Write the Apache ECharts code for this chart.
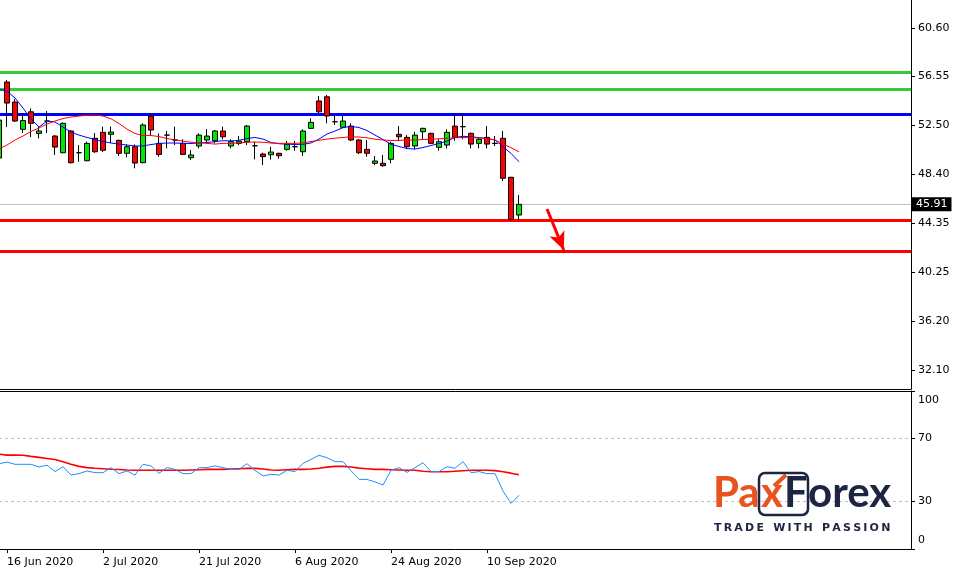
<!DOCTYPE html>
<html><head><meta charset="utf-8">
<script src="https://cdn.jsdelivr.net/npm/echarts@6/dist/echarts.min.js"></script>
<style>html,body{margin:0;padding:0;background:#fff}#c{width:956px;height:569px}</style>
</head><body><div id="c"></div>
<script>
// ---- data ----
const dates = ['15 Jun 2020','16 Jun 2020','17 Jun 2020','18 Jun 2020','19 Jun 2020','22 Jun 2020','23 Jun 2020','24 Jun 2020','25 Jun 2020','26 Jun 2020','29 Jun 2020','30 Jun 2020',
 '1 Jul 2020','2 Jul 2020','6 Jul 2020','7 Jul 2020','8 Jul 2020','9 Jul 2020','10 Jul 2020','13 Jul 2020','14 Jul 2020','15 Jul 2020','16 Jul 2020','17 Jul 2020','20 Jul 2020','21 Jul 2020','22 Jul 2020','23 Jul 2020','24 Jul 2020','27 Jul 2020','28 Jul 2020','29 Jul 2020','30 Jul 2020','31 Jul 2020',
 '3 Aug 2020','4 Aug 2020','5 Aug 2020','6 Aug 2020','7 Aug 2020','10 Aug 2020','11 Aug 2020','12 Aug 2020','13 Aug 2020','14 Aug 2020','17 Aug 2020','18 Aug 2020','19 Aug 2020','20 Aug 2020','21 Aug 2020','24 Aug 2020','25 Aug 2020','26 Aug 2020','27 Aug 2020','28 Aug 2020','31 Aug 2020',
 '1 Sep 2020','2 Sep 2020','3 Sep 2020','4 Sep 2020','8 Sep 2020','9 Sep 2020','10 Sep 2020','11 Sep 2020','14 Sep 2020','15 Sep 2020','16 Sep 2020'];
const opens  = [49.77,56.10,54.43,52.16,53.62,51.82,52.85,51.60,50.21,52.02,50.21,49.54,51.41,51.91,51.74,51.24,50.16,50.71,49.38,53.27,50.99,51.68,51.27,50.99,49.79,50.77,51.27,51.21,52.02,50.77,50.99,51.13,50.79,50.10,50.04,50.16,50.49,50.71,50.29,52.24,54.52,54.87,52.79,52.33,52.43,51.27,50.49,49.33,49.33,49.66,51.74,51.49,50.77,51.96,51.82,50.66,50.85,52.43,52.38,51.82,50.99,51.49,50.99,51.41,48.16,45.02];
const closes = [52.93,54.35,52.85,52.89,52.66,52.02,52.85,50.68,52.66,49.38,50.21,50.99,50.29,50.41,51.93,50.16,50.71,49.35,52.52,52.10,50.07,51.68,51.27,50.07,50.02,51.68,51.60,52.02,51.54,51.13,51.18,52.43,50.79,49.88,50.27,49.96,50.91,50.71,52.02,52.74,53.62,53.27,52.79,52.85,51.27,50.21,50.16,49.52,49.13,50.99,51.54,50.71,51.68,52.24,50.99,51.13,51.91,51.49,52.38,50.93,51.33,50.93,50.99,48.08,44.66,45.91];
const lows   = [49.60,52.35,52.77,51.85,51.52,51.41,51.85,50.02,50.16,49.30,49.46,49.50,50.20,50.27,51.02,49.93,49.82,48.91,49.33,51.68,49.88,50.57,50.85,50.02,49.60,50.57,50.99,50.99,51.33,50.57,50.85,50.85,49.66,49.18,49.63,49.71,50.38,50.38,49.93,52.18,53.49,52.66,52.52,52.24,51.18,50.10,49.88,49.18,49.04,49.33,51.18,50.57,50.49,51.33,50.93,50.38,50.57,51.21,51.33,50.57,50.57,50.57,50.77,47.85,44.54,44.60];
const highs  = [53.00,56.27,54.68,53.52,53.91,52.35,53.68,51.68,52.74,52.10,50.85,51.13,51.85,52.38,52.39,51.30,50.90,50.90,52.66,53.49,51.82,52.02,52.38,51.33,50.43,51.82,52.18,52.10,52.38,51.33,51.60,52.52,51.13,50.21,50.71,50.21,51.18,51.18,52.16,53.08,54.93,55.02,53.27,53.27,52.66,51.33,51.27,49.93,50.02,51.13,52.43,51.68,51.96,52.30,51.88,51.33,52.16,53.49,53.49,51.91,51.49,52.43,51.60,52.02,48.20,46.68];
const maFast = [55.49,55.35,54.77,53.93,53.02,52.35,52.85,52.77,52.35,51.93,51.68,51.48,51.31,51.14,51.02,50.93,50.85,50.77,50.77,50.89,50.98,51.02,51.02,50.99,50.98,51.02,51.06,51.14,51.21,51.20,51.24,51.39,51.48,51.35,51.06,50.96,50.92,50.90,50.91,51.02,51.35,51.77,52.02,52.31,52.41,52.31,52.06,51.68,51.31,50.91,50.73,50.56,50.52,50.64,50.81,50.98,51.18,51.48,51.58,51.53,51.47,51.39,51.27,50.71,50.16,49.46];
const maSlow = [50.52,50.85,51.27,51.60,51.98,52.27,52.60,52.85,53.06,53.18,53.27,53.33,53.35,53.27,53.04,52.64,52.18,51.81,51.64,51.64,51.56,51.39,51.28,51.18,51.08,51.05,50.99,50.93,50.99,50.99,51.03,51.08,51.10,51.08,51.02,50.99,50.99,50.99,51.03,51.14,51.25,51.35,51.42,51.48,51.53,51.52,51.45,51.34,51.27,51.23,51.24,51.27,51.27,51.31,51.33,51.37,51.41,51.46,51.48,51.47,51.44,51.39,51.28,50.93,50.63,50.29];
const rsi = [54,55,53.6,53.6,53.6,51.9,53.1,49,52.1,46.8,47.7,49.4,48.3,48.3,51.5,47.7,49.4,46.8,53.6,52.6,47.9,51.5,50.4,47.7,47.7,51.5,51.5,52.6,51.5,50.4,50.4,54,49.8,46.2,47.3,46.8,49.8,49,54.2,56.7,59.3,57.8,55.3,55.3,49.5,44.1,44,42.5,40.5,49.8,51.5,48.5,51.5,54.6,49,49,52.1,51.1,55.3,48.3,49,47.7,47.7,36.7,28.9,34];
const rsiSignal = [60,59.4,59.4,59.3,58.6,58,57.3,56.6,55.2,53.6,52.3,51.5,51.1,50.8,50.5,50.3,50,49.8,49.8,49.8,49.8,49.8,49.8,49.8,50,50.2,50.4,50.4,50.4,50.6,50.8,51,51,50.6,50,49.8,50.2,50.4,50.4,50.6,51.1,51.8,52.3,52.3,51.9,51.2,50.8,50.4,50.4,50.2,50,49.8,49.8,49.2,48.9,48.9,48.9,49.2,49.5,49.8,49.8,49.8,49.6,48.9,48,47];
const priceTicks = [60.60,56.55,52.50,48.40,44.35,40.25,36.20,32.10];
const rsiTicks = [100,70,30,0];
const rsiLevels = [70,30];
const dateTicks = ['16 Jun 2020','2 Jul 2020','21 Jul 2020','6 Aug 2020','24 Aug 2020','10 Sep 2020'];
const greenLevels = [56.875,55.49];
const blueLevels = [53.41];
const redLevels = [44.60,42.02];
const lastPrice = 45.91;
const arrowFrom = [68.5,45.52];
const arrowTo = [70.6,42.10];
const futureSlots = 49;

// ---- chart ----
const categories = dates.concat(Array.from({length: futureSlots}, (_, i) => '~' + i));
const FONT = 'DejaVu Sans';
const chart = echarts.init(document.getElementById('c'), null, {renderer: 'canvas'});
const levelData = []
  .concat(greenLevels.map(v => ({yAxis: v, lineStyle: {color: '#33cc33', width: 3, type: 'solid'}})))
  .concat(blueLevels.map(v => ({yAxis: v, lineStyle: {color: '#0000ff', width: 3, type: 'solid'}})))
  .concat(redLevels.map(v => ({yAxis: v, lineStyle: {color: '#ff0000', width: 3, type: 'solid'}})))
  .concat([{yAxis: lastPrice, lineStyle: {color: '#c0c0c0', width: 1, type: 'solid'},
    label: {show: true, position: 'end', distance: 1, formatter: lastPrice.toFixed(2), color: '#fff', backgroundColor: '#000',
      padding: [2, 4, 1, 4], fontSize: 11, fontFamily: FONT}}]);

const option = {
  animation: false,
  backgroundColor: '#fff',
  grid: [
    {left: -1, right: 45, top: -1, height: 390, outerBoundsMode: 'none', containLabel: false},
    {left: -1, right: 45, top: 391, height: 158, outerBoundsMode: 'none', containLabel: false}
  ],
  xAxis: [
    {type: 'category', gridIndex: 0, data: categories, boundaryGap: false,
      axisLine: {show: true, onZero: false, lineStyle: {color: '#000', width: 1}}, axisTick: {show: false}, axisLabel: {show: false}, splitLine: {show: false}},
    {type: 'category', gridIndex: 1, data: categories, boundaryGap: false, position: 'bottom',
      axisLine: {show: true, onZero: false, lineStyle: {color: '#000', width: 1}},
      axisTick: {show: true, length: 4, lineStyle: {color: '#000'}, interval: (i, v) => dateTicks.includes(v)},
      axisLabel: {show: true, interval: (i, v) => dateTicks.includes(v), align: 'left', margin: 8, color: '#000', fontSize: 11, fontFamily: FONT},
      splitLine: {show: false}},
    {type: 'category', gridIndex: 1, data: categories, boundaryGap: false, position: 'top',
      axisLine: {show: true, onZero: false, lineStyle: {color: '#000', width: 1}}, axisTick: {show: false}, axisLabel: {show: false}},
    {type: 'value', gridIndex: 0, min: 0, max: categories.length - 1, show: false,
      axisLine: {onZero: false}}
  ],
  yAxis: [
    {type: 'value', gridIndex: 0, position: 'right', min: 30.52, max: 63.02, scale: true,
      axisLine: {show: true, onZero: false, lineStyle: {color: '#000', width: 1}},
      axisTick: {show: true, length: 4, customValues: priceTicks, lineStyle: {color: '#000'}},
      axisLabel: {show: true, customValues: priceTicks, formatter: v => v.toFixed(2), margin: 7, color: '#000', fontSize: 11, fontFamily: FONT},
      splitLine: {show: false}},
    {type: 'value', gridIndex: 1, position: 'right', min: 0, max: 100,
      axisLine: {show: true, onZero: false, lineStyle: {color: '#000', width: 1}},
      axisTick: {show: true, length: 4, customValues: rsiTicks, lineStyle: {color: '#000'}},
      axisLabel: {show: true, customValues: rsiTicks, margin: 7, color: '#000', fontSize: 11, fontFamily: FONT,
        formatter: v => v === 100 ? '{t|100}' : (v === 0 ? '{b|0}' : '{m|' + v + '}'),
        rich: {t: {padding: [19, 0, 0, 0], fontSize: 11, fontFamily: FONT, color: '#000'},
               b: {padding: [0, 0, 17, 0], fontSize: 11, fontFamily: FONT, color: '#000'},
               m: {fontSize: 11, fontFamily: FONT, color: '#000'}}},
      splitLine: {show: false}}
  ],
  series: [
    {type: 'candlestick', name: 'price', xAxisIndex: 0, yAxisIndex: 0, z: 3, barWidth: 5,
      data: dates.map((d, i) => [opens[i], closes[i], lows[i], highs[i]]),
      itemStyle: {color: '#00e600', color0: '#ff0000', borderColor: '#000', borderColor0: '#000', borderColorDoji: '#000', borderWidth: 1},
      markLine: {silent: true, z: 1, symbol: ['none', 'none'], label: {show: false}, data: levelData}},
    {type: 'line', name: 'maFast', xAxisIndex: 0, yAxisIndex: 0, z: 4, data: maFast, showSymbol: false, symbol: 'none',
      lineStyle: {color: '#0000ff', width: 1}},
    {type: 'line', name: 'maSlow', xAxisIndex: 0, yAxisIndex: 0, z: 4, data: maSlow, showSymbol: false, symbol: 'none',
      lineStyle: {color: '#ff0000', width: 1}},
    {type: 'line', name: 'arrow', xAxisIndex: 3, yAxisIndex: 0, z: 6, data: [arrowFrom, arrowTo], showSymbol: false, symbol: 'none',
      lineStyle: {opacity: 0},
      markLine: {silent: true, z: 6, symbol: ['none', 'arrow'], symbolSize: [12, 18], label: {show: false},
        lineStyle: {color: '#ff0000', width: 3, type: 'solid'},
        data: [[{coord: arrowFrom}, {coord: arrowTo}]]}},
    {type: 'line', name: 'rsi', xAxisIndex: 1, yAxisIndex: 1, z: 4, data: rsi, showSymbol: false, symbol: 'none',
      lineStyle: {color: '#1e90ff', width: 1},
      markLine: {silent: true, symbol: ['none', 'none'], label: {show: false},
        lineStyle: {color: '#c0c0c0', width: 1, type: [3, 3]},
        data: rsiLevels.map(v => ({yAxis: v}))}},
    {type: 'line', name: 'rsiSignal', xAxisIndex: 1, yAxisIndex: 1, z: 3, data: rsiSignal, showSymbol: false, symbol: 'none',
      lineStyle: {color: '#ff0000', width: 1.6}}
  ],
  graphic: [
    {type: 'text', left: 713, top: 472, z: 100, style: {text: 'Pa', fill: '#e8531f', font: 'bold 42px Lato'}},
    {type: 'text', left: 761, top: 472, z: 100, style: {text: 'x', fill: '#e8531f', font: 'bold 42px Lato'}},
    {type: 'line', z: 100, shape: {x1: 774, y1: 486, x2: 786, y2: 475}, style: {stroke: '#e8531f', lineWidth: 4}},
    {type: 'rect', z: 100, shape: {x: 759, y: 473, width: 49, height: 42, r: 6}, style: {fill: 'none', stroke: '#1c2541', lineWidth: 2.5}},
    {type: 'text', left: 784, top: 472, z: 100, style: {text: 'F', fill: '#1c2541', font: 'bold 42px Lato'}},
    {type: 'text', left: 808, top: 472, z: 100, style: {text: 'orex', fill: '#1c2541', font: 'bold 42px Lato'}},
    {type: 'text', left: 714, top: 523, z: 100, style: {text: 'T\u2009R\u2009A\u2009D\u2009E\u2002 W\u2009I\u2009T\u2009H\u2002 P\u2009A\u2009S\u2009S\u2009I\u2009O\u2009N', fill: '#1c2541', font: 'bold 11px "DejaVu Sans"'}}
  ]
};
chart.setOption(option);
</script>
</body></html>
